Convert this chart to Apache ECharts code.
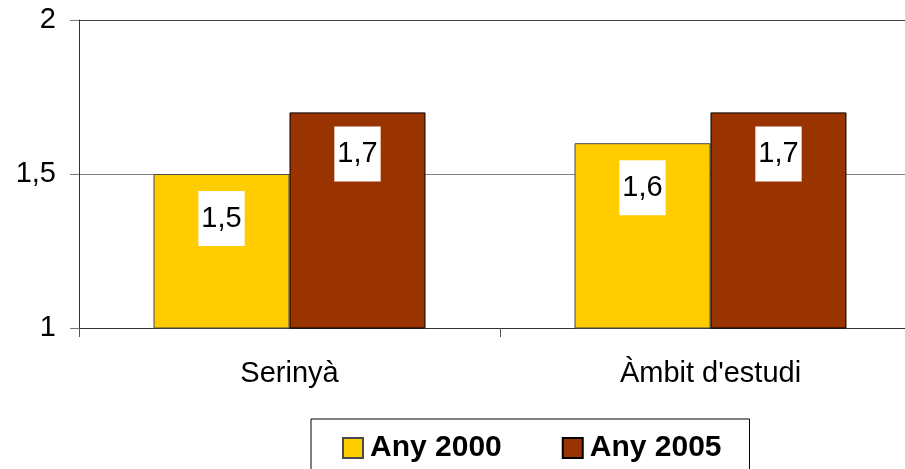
<!DOCTYPE html>
<html>
<head>
<meta charset="utf-8">
<script src="https://cdn.jsdelivr.net/npm/echarts@6/dist/echarts.min.js"></script>
<style>html,body{margin:0;padding:0;background:#fff;overflow:hidden;width:905px;height:469px}#c{width:925px;height:469px}</style>
</head>
<body>
<div id="c"></div>
<script>
const categories = ['Serinyà', "Àmbit d'estudi"];
const seriesNames = ['Any 2000', 'Any 2005'];
const any2000 = [1.5, 1.6];
const any2005 = [1.7, 1.7];
const yTicks = { min: 1, max: 2, interval: 0.5 };

const fmt = v => String(v).replace('.', ',');
const FONT = '"Liberation Sans", Arial, sans-serif';

const chart = echarts.init(document.getElementById('c'), null, { renderer: 'canvas' });

function labelCfg(dist) {
  return {
    show: true,
    position: 'insideTop',
    distance: dist,
    formatter: p => fmt(p.value),
    fontFamily: FONT,
    fontSize: 29,
    color: '#000',
    backgroundColor: '#fff',
    padding: [12, 3, 12, 3],
    lineHeight: 31
  };
}

chart.setOption({
  animation: false,
  backgroundColor: '#fff',
  grid: { left: 79, top: 20, width: 842, bottom: 141, containLabel: false },
  legend: {
    left: 311, top: 419,
    orient: 'horizontal',
    data: seriesNames,
    itemWidth: 20, itemHeight: 20,
    itemGap: 60,
    padding: [14, 28, 30, 31],
    borderColor: '#000', borderWidth: 1,
    textStyle: { fontFamily: FONT, fontSize: 30, fontWeight: 'bold', color: '#000', padding: [0, 0, 0, 2] },
    icon: 'rect'
  },
  xAxis: {
    type: 'category',
    data: categories,
    axisLine: { lineStyle: { color: '#333', width: 1 } },
    axisTick: { show: true, length: 9, alignWithLabel: false, lineStyle: { color: '#555' } },
    axisLabel: { fontFamily: FONT, fontSize: 29, color: '#000', margin: 31 }
  },
  yAxis: {
    type: 'value',
    min: yTicks.min, max: yTicks.max, interval: yTicks.interval,
    axisLine: { show: true, lineStyle: { color: '#333', width: 1 } },
    axisTick: { show: true, length: 9, lineStyle: { color: '#777' } },
    axisLabel: { fontFamily: FONT, fontSize: 29, color: '#000', margin: 23, formatter: v => fmt(v) },
    splitLine: { show: true, lineStyle: { color: ['#333', '#808080', '#444'], width: 1 } }
  },
  series: [
    {
      name: seriesNames[0], type: 'bar', data: any2000,
      barGap: '0%', barCategoryGap: '35.4%',
      itemStyle: { color: '#FFCC00', borderColor: '#4a4a4a', borderWidth: 1 },
      label: labelCfg(17)
    },
    {
      name: seriesNames[1], type: 'bar', data: any2005,
      barGap: '0%', barCategoryGap: '35.4%',
      itemStyle: { color: '#993300', borderColor: '#000', borderWidth: 1 },
      label: labelCfg(14)
    }
  ]
});
</script>
</body>
</html>
